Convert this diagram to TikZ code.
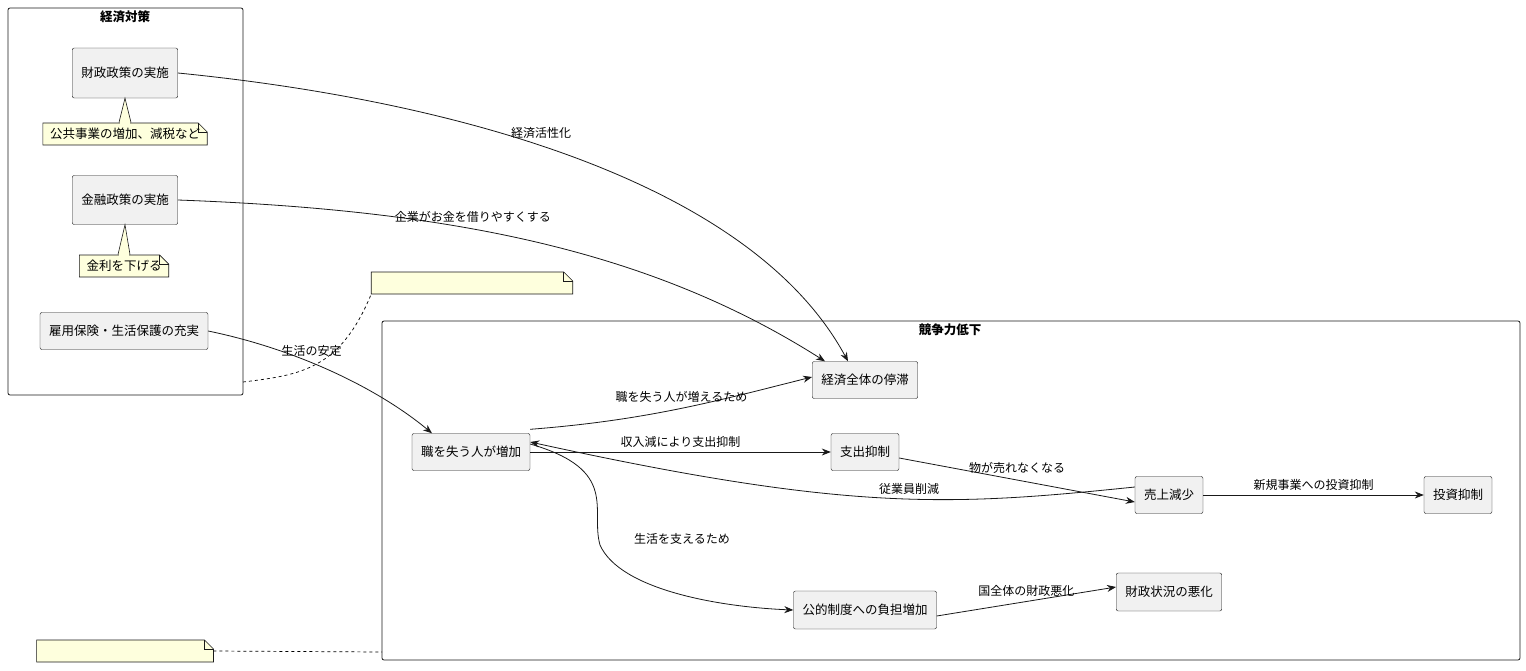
\documentclass[tikz,border=0pt]{standalone}
\usepackage{fontspec}
\setmainfont{Noto Sans CJK JP}
\usetikzlibrary{arrows.meta}
\definecolor{boxfill}{HTML}{F1F1F1}
\definecolor{notefill}{HTML}{FEFFDD}
\tikzset{
  bx/.style={draw=black!90,fill=boxfill,rounded corners=2pt,inner xsep=9pt,inner ysep=9pt,font=\fontsize{12.5}{14}\selectfont},
  nt/.style={inner xsep=7pt,inner ysep=5pt,font=\fontsize{12.5}{14}\selectfont},
  lbl/.style={font=\fontsize{12}{14}\selectfont},
  ar/.style={-{Stealth[length=9pt,width=7pt]},draw=black!90,line width=0.8pt},
  cl/.style={draw=black!90,rounded corners=2pt,line width=0.8pt}
}
\newcommand{\notedraw}[1]{%
  \fill[notefill,draw=black!90,line width=0.6pt] (#1.south west) -- (#1.north west) -- ([xshift=-9pt]#1.north east) -- ([yshift=-9pt]#1.north east) -- (#1.south east) -- cycle;
  \draw[black!90,line width=0.6pt] ([xshift=-9pt]#1.north east) -- ([xshift=-9pt,yshift=-9pt]#1.north east) -- ([yshift=-9pt]#1.north east);}
\begin{document}
\begin{tikzpicture}[x=1pt,y=-1pt]
\useasboundingbox (0,0) rectangle (1526,670);
% clusters
\draw[cl] (8,8) rectangle (243,395);
\node[font=\bfseries\fontsize{12.5}{14}\selectfont] (t1) at (125,17) {経済対策};
\draw[cl] (382,321) rectangle (1520,660);
\node[font=\bfseries\fontsize{12.5}{14}\selectfont] (t2) at (950,330) {競争力低下};
% boxes
\node[bx,minimum height=50pt] (zaisei) at (125,73) {財政政策の実施};
\node[bx,minimum height=49pt] (kinyu) at (125,200) {金融政策の実施};
\node[bx,minimum height=37pt] (koyo) at (124,331) {雇用保険・生活保護の充実};
\node[bx,minimum height=37pt] (teitai) at (865,380) {経済全体の停滞};
\node[bx,minimum height=37pt] (shoku) at (471,452) {職を失う人が増加};
\node[bx,minimum height=37pt] (shishutsu) at (865,452) {支出抑制};
\node[bx,minimum height=37pt] (uriage) at (1169,495) {売上減少};
\node[bx,minimum height=37pt] (toshi) at (1458,495) {投資抑制};
\node[bx,minimum height=38pt] (kouteki) at (865,610) {公的制度への負担増加};
\node[bx,minimum height=38pt] (zaisei2) at (1169,592) {財政状況の悪化};
% notes
\node[nt] (n1) at (125,134) {公共事業の増加、減税など};
\node[nt] (n2) at (124,266) {金利を下げる};
\node[nt] (n3) at (472,283) {国、企業、個人の協力による対策};
\node[nt] (n4) at (125,651) {企業の競争力低下と経営悪化};
\fill[notefill,draw=black!90,line width=0.6pt] (119,122.5) -- (zaisei.south) -- (131,122.5);
\fill[notefill,draw=black!90,line width=0.6pt] (118,254.5) -- (kinyu.south) -- (130,254.5);
\notedraw{n1}\notedraw{n2}\notedraw{n3}\notedraw{n4}
\fill[notefill] (120,121) rectangle (130,124);
\fill[notefill] (119,253) rectangle (129,256);
\node[nt] at (125,134) {公共事業の増加、減税など};
\node[nt] at (124,266) {金利を下げる};
\coordinate (c1) at (243,382);
\draw[dashed,line width=0.7pt] (c1) .. controls (300,375) and (340,370) .. (n3.south west);
\coordinate (c2) at (382,652);
\draw[dashed,line width=0.7pt] (n4.east) -- (c2);
% edges
\draw[ar] (zaisei.east) .. controls (450,100) and (750,180) .. node[lbl,pos=0.45,above=4pt]{経済活性化} ([xshift=-17pt]teitai.north);
\path (472,100) node[lbl] {};
\draw[ar] (kinyu.east) .. controls (450,210) and (650,250) .. node[lbl,pos=0.4,above=3pt]{企業がお金を借りやすくする} ([xshift=-40pt]teitai.north);
\draw[ar] (koyo.east) .. controls (300,350) and (380,390) .. node[lbl,pos=0.4,above=3pt]{生活の安定} ([xshift=-39pt]shoku.north);
\draw[ar] ([yshift=4pt]shoku.north east) .. controls (650,420) and (720,400) .. node[lbl,pos=0.5,above=2pt]{職を失う人が増えるため} ([yshift=3pt]teitai.west);
\draw[ar] (shoku.east) -- node[lbl,above=1pt]{収入減により支出抑制} (shishutsu.west);
\draw[ar] ([yshift=-6pt]shishutsu.east) -- node[lbl,above=3pt]{物が売れなくなる} ([yshift=-7pt]uriage.west);
\draw[ar] ([yshift=8pt]uriage.west) .. controls (950,506) and (850,512) .. node[lbl,pos=0.45,above=1pt]{従業員削減} ([yshift=10pt]shoku.east);
\draw[ar] (uriage.east) -- node[lbl,above=1pt]{新規事業への投資抑制} (toshi.west);
\draw[ar] ([yshift=8pt]shoku.east) .. controls (620,470) and (590,510) .. (600,545) .. controls (620,590) and (720,607) .. (kouteki.west);
\node[lbl] at (682,539) {生活を支えるため};
\draw[ar] ([yshift=-6pt]kouteki.east) -- node[lbl,above=1pt]{国全体の財政悪化} ([yshift=5pt]zaisei2.west);
\end{tikzpicture}
\end{document}
